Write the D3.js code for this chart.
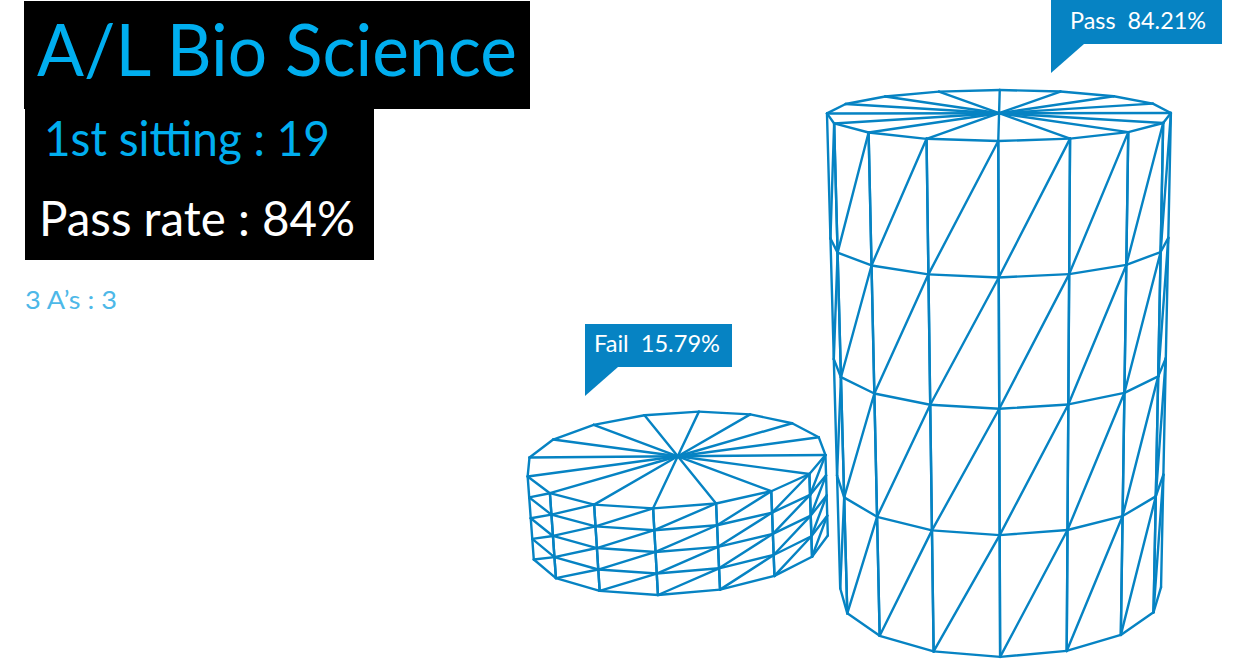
<!DOCTYPE html>
<html><head><meta charset="utf-8">
<script src="https://d3js.org/d3.v7.min.js"></script>
<style>html,body{margin:0;padding:0;background:#fff}svg{display:block}text{font-family:Lato,"Open Sans",sans-serif;font-weight:400}</style>
</head><body><svg id="c" width="1239" height="660"></svg>
<script>
const categories = ["Fail", "Pass"];
const values = [15.79, 84.21];
const labels = ["Fail  15.79%", "Pass  84.21%"];
const headline = "A/L Bio Science";
const sittingText = "1st sitting : 19";
const passText = "Pass rate : 84%";
const threeAText = "3 A\u2019s : 3";

const BLUE = "#0683c3";
const SEG = 16, ROWS = 4;
// camera
const F = 1850, PPX = 1024, PPY = 330, S = Math.sin(0.2635), C = Math.cos(0.2635), CAM_H = 4.545;
// cylinder placement in world units (x, depth, base drop, ring rotation in degrees)
const place = [
  {x: -2.35, z: 11.9, y0: -0.138, rot: -1.5},
  {x: -0.145, z: 10.716, y0: -0.01, rot: -0.5}
];
const heightScale = d3.scaleLinear().domain([15.79, 84.21]).range([0.585, 2.97]);
const project = ([X, Y, Z]) => {
  const dy = Y - CAM_H, xc = X, yc = dy * C + Z * S, zc = Z * C - dy * S;
  return [PPX + F * xc / zc, PPY - F * yc / zc];
};
const svg = d3.select("#c");
const line = d3.line();

function cyl(i) {
  const p = place[i], H = heightScale(values[i]);
  const v = (k, r) => {
    const a = (p.rot + k * 360 / SEG) * Math.PI / 180;
    return [p.x + Math.cos(a), p.y0 + H * (1 - r / ROWS), p.z - Math.sin(a)];
  };
  const segs = [];
  for (let k = 0; k < SEG; k++) {
    segs.push([v(k, 0), [p.x, p.y0 + H, p.z]]);
    segs.push([v(k, 0), v(k + 1, 0)]);
    const a = (p.rot + (k + .5) * 360 / SEG) * Math.PI / 180;
    const nx = Math.cos(a), nz = -Math.sin(a);
    const mx = p.x + nx, mz = p.z + nz;
    const vis = nx * (0 - mx) + nz * (0 - mz) > 0;
    if (!vis) continue;
    for (let r = 0; r < ROWS; r++) {
      segs.push([v(k, r), v(k, r + 1)]);
      segs.push([v(k + 1, r), v(k + 1, r + 1)]);
      segs.push([v(k, r + 1), v(k + 1, r + 1)]);
      segs.push([v(k, r), v(k + 1, r + 1)]);
    }
  }
  svg.append("g").selectAll("path").data(segs).join("path")
    .attr("d", d => line(d.map(project)))
    .attr("fill", "none").attr("stroke", BLUE).attr("stroke-width", 2.4).attr("stroke-linecap", "round");
}
cyl(0); cyl(1);

// callouts
const callouts = [
  {x: 585, y: 324, w: 147, h: 43, tx: 594, ty: 352, tip: 29, tw: 33, len: 126},
  {x: 1051, y: 0, w: 171, h: 44, tx: 1070, ty: 29, tip: 29, tw: 33, len: 136}
];
callouts.forEach((c, i) => {
  svg.append("rect").attr("x", c.x).attr("y", c.y).attr("width", c.w).attr("height", c.h).attr("fill", BLUE);
  svg.append("path").attr("d", line([[c.x, c.y + c.h], [c.x + c.tw, c.y + c.h], [c.x, c.y + c.h + c.tip]])).attr("fill", BLUE);
  svg.append("text").attr("x", c.tx).attr("y", c.ty).attr("fill", "#fff").attr("font-size", 24).attr("textLength", c.len).attr("lengthAdjust", "spacingAndGlyphs").style("white-space","pre").text(labels[i]);
});

// panels
svg.append("rect").attr("x", 24).attr("y", 1).attr("width", 506).attr("height", 108).attr("fill", "#000");
svg.append("rect").attr("x", 25).attr("y", 109).attr("width", 349).attr("height", 151).attr("fill", "#000");
const T = (s, x, y, fs, fill, len) => svg.append("text").attr("x", x).attr("y", y).attr("font-size", fs).attr("fill", fill).attr("textLength", len).attr("lengthAdjust", "spacingAndGlyphs").text(s);
T(headline, 37, 76, 71, "#00aeef", 480);
T(sittingText, 44, 156, 48, "#00aeef", 286);
T(passText, 39, 236, 48, "#ffffff", 316);
T(threeAText, 25, 309, 25, "#4db8e8", 92);
</script></body></html>
